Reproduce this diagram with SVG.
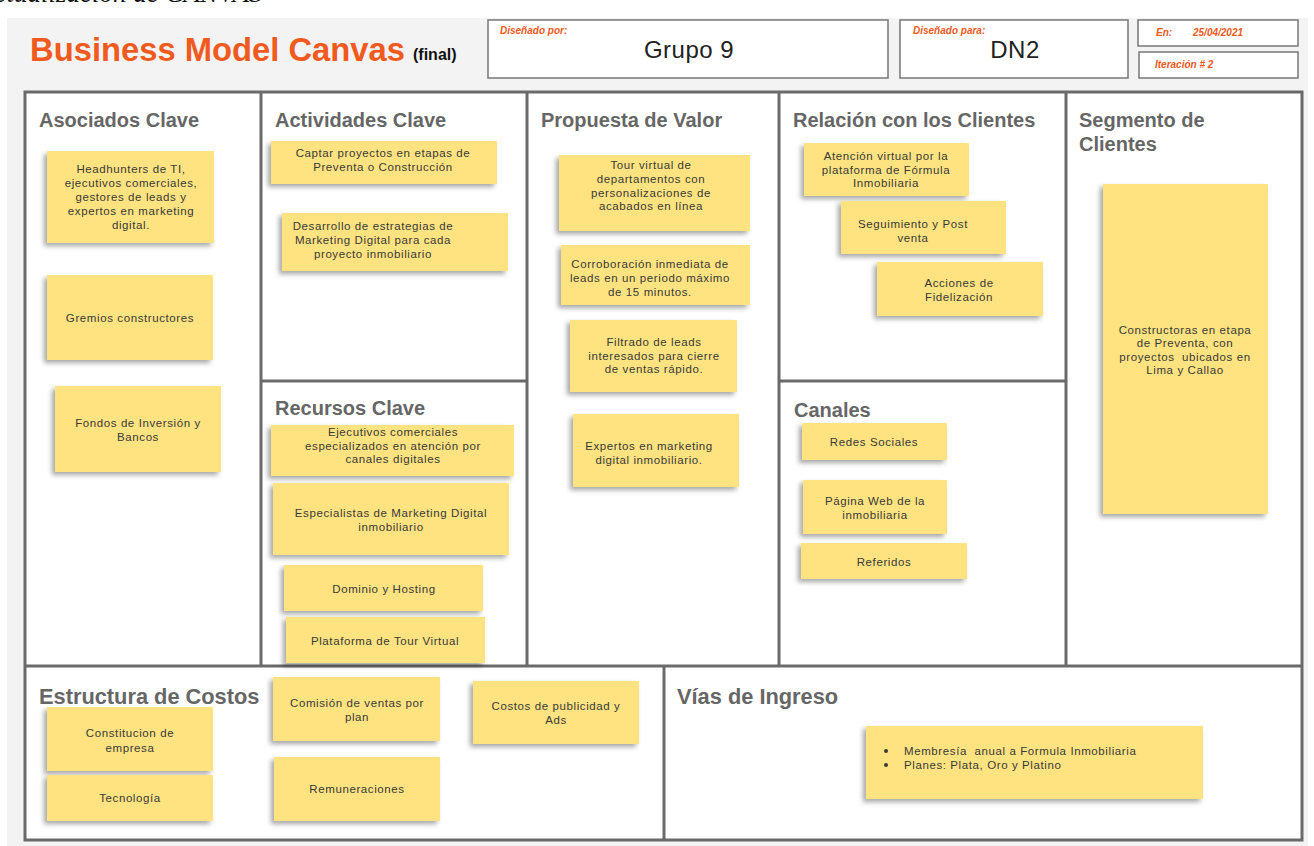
<svg xmlns="http://www.w3.org/2000/svg" width="1314" height="846" viewBox="0 0 1314 846">
<defs>
<filter id="sh" x="-10%" y="-10%" width="125%" height="130%">
<feDropShadow dx="-3" dy="3" stdDeviation="2.5" flood-color="#000" flood-opacity="0.35"/>
</filter>
<style>
.hd{font-family:"Liberation Sans",Arial,sans-serif;font-weight:bold;font-size:20px;fill:#666}
.hd2{font-family:"Liberation Sans",Arial,sans-serif;font-weight:bold;font-size:21.8px;fill:#666}
.nt{font-family:"Liberation Sans",Arial,sans-serif;font-size:11.5px;letter-spacing:0.6px;fill:#3a3a3a;text-anchor:middle}
.ntl{font-family:"Liberation Sans",Arial,sans-serif;font-size:11.5px;letter-spacing:0.6px;fill:#3a3a3a}
.note{fill:#fee380;filter:url(#sh)}
.grid{stroke:#6a6a6a;stroke-width:3;fill:none}
.box{fill:#fff;stroke:#777;stroke-width:1.5}
.lab{font-family:"Liberation Sans",Arial,sans-serif;font-style:italic;font-weight:bold;font-size:10px;fill:#f05a1e}
.big{font-family:"Liberation Sans",Arial,sans-serif;font-size:24px;letter-spacing:0.5px;fill:#222;text-anchor:middle}
</style>
</defs>
<rect width="1314" height="846" fill="#fff"/>
<text x="-22" y="2" font-family="Liberation Serif,serif" font-style="italic" font-size="27" fill="#111">Actualización de CANVAS</text>
<rect x="7" y="18" width="1301" height="828" fill="#f3f3f3"/>

<g id="header">
<text x="30" y="61" font-family="Liberation Sans,Arial,sans-serif" font-weight="bold" font-size="33" fill="#f05a1e" textLength="375" lengthAdjust="spacingAndGlyphs">Business Model Canvas</text>
<text x="413" y="60" font-family="Liberation Sans,Arial,sans-serif" font-weight="bold" font-size="16" fill="#111">(final)</text>
<g id="disenado-por"><rect class="box" x="488" y="20" width="400" height="58"/><text class="lab" x="500" y="34">Diseñado por:</text><text class="big" x="689" y="58">Grupo 9</text></g>
<g id="disenado-para"><rect class="box" x="900" y="20" width="228" height="58"/><text class="lab" x="913" y="34">Diseñado para:</text><text class="big" x="1015" y="58">DN2</text></g>
<g id="fecha"><rect class="box" x="1138" y="20" width="160" height="26"/><text class="lab" x="1156" y="36">En:</text><text class="lab" x="1193" y="36">25/04/2021</text></g>
<g id="iteracion"><rect class="box" x="1139" y="52" width="159" height="26"/><text class="lab" x="1155" y="68">Iteración # 2</text></g>
</g>

<g id="canvas-grid">
<rect x="25" y="92" width="1277" height="748" fill="#fff"/>
<g class="grid">
<rect x="25" y="92" width="1277" height="748"/>
<line x1="261" y1="92" x2="261" y2="666"/>
<line x1="527" y1="92" x2="527" y2="666"/>
<line x1="779" y1="92" x2="779" y2="666"/>
<line x1="1066" y1="92" x2="1066" y2="666"/>
<line x1="261" y1="381" x2="527" y2="381"/>
<line x1="779" y1="381" x2="1066" y2="381"/>
<line x1="25" y1="666" x2="1302" y2="666"/>
<line x1="664" y1="666" x2="664" y2="840"/>
</g>
</g>

<g id="asociados-clave">
<text class="hd" x="39" y="127">Asociados Clave</text>
<g id="n-headhunters"><rect class="note" x="47" y="151" width="167" height="92"/>
<text class="nt"><tspan x="131" y="173">Headhunters de TI,</tspan><tspan x="131" y="187">ejecutivos comerciales,</tspan><tspan x="131" y="201">gestores de leads y</tspan><tspan x="131" y="215">expertos en marketing</tspan><tspan x="131" y="229">digital.</tspan></text></g>
<g id="n-gremios"><rect class="note" x="47" y="275" width="166" height="85"/><text class="nt" x="130" y="322">Gremios constructores</text></g>
<g id="n-fondos"><rect class="note" x="55" y="386" width="166" height="86"/><text class="nt"><tspan x="138" y="427">Fondos de Inversión y</tspan><tspan x="138" y="441">Bancos</tspan></text></g>
</g>

<g id="actividades-clave">
<text class="hd" x="275" y="127">Actividades Clave</text>
<g id="n-captar"><rect class="note" x="271" y="141" width="226" height="43"/><text class="nt"><tspan x="383" y="157">Captar proyectos en etapas de</tspan><tspan x="383" y="171">Preventa o Construcción</tspan></text></g>
<g id="n-desarrollo"><rect class="note" x="282" y="213" width="226" height="58"/><text class="nt"><tspan x="373" y="230">Desarrollo de estrategias de</tspan><tspan x="373" y="244">Marketing Digital para cada</tspan><tspan x="373" y="258">proyecto inmobiliario</tspan></text></g>
</g>

<g id="recursos-clave">
<text class="hd" x="275" y="415">Recursos Clave</text>
<g id="n-ejecutivos"><rect class="note" x="271" y="425" width="243" height="51"/><text class="nt"><tspan x="393" y="436">Ejecutivos comerciales</tspan><tspan x="393" y="450">especializados en atención por</tspan><tspan x="393" y="463">canales digitales</tspan></text></g>
<g id="n-especialistas"><rect class="note" x="273" y="483" width="236" height="72"/><text class="nt"><tspan x="391" y="517">Especialistas de Marketing Digital</tspan><tspan x="391" y="531">inmobiliario</tspan></text></g>
<g id="n-dominio"><rect class="note" x="284" y="565" width="199" height="46"/><text class="nt" x="384" y="593">Dominio y Hosting</text></g>
<g id="n-plataforma"><rect class="note" x="286" y="617" width="199" height="46"/><text class="nt" x="385" y="645">Plataforma de Tour Virtual</text></g>
</g>

<g id="propuesta-valor">
<text class="hd" x="541" y="127">Propuesta de Valor</text>
<g id="n-tour"><rect class="note" x="559" y="155" width="191" height="76"/><text class="nt"><tspan x="651" y="169">Tour virtual de</tspan><tspan x="651" y="183">departamentos con</tspan><tspan x="651" y="197">personalizaciones de</tspan><tspan x="651" y="210">acabados en línea</tspan></text></g>
<g id="n-corroboracion"><rect class="note" x="561" y="245" width="189" height="60"/><text class="nt"><tspan x="650" y="268">Corroboración inmediata de</tspan><tspan x="650" y="282">leads en un periodo máximo</tspan><tspan x="650" y="296">de 15 minutos.</tspan></text></g>
<g id="n-filtrado"><rect class="note" x="570" y="320" width="167" height="72"/><text class="nt"><tspan x="654" y="346">Filtrado de leads</tspan><tspan x="654" y="360">interesados para cierre</tspan><tspan x="654" y="373">de ventas rápido.</tspan></text></g>
<g id="n-expertos"><rect class="note" x="573" y="414" width="166" height="73"/><text class="nt"><tspan x="649" y="450">Expertos en marketing</tspan><tspan x="649" y="464">digital inmobiliario.</tspan></text></g>
</g>

<g id="relacion-clientes">
<text class="hd" x="793" y="127">Relación con los Clientes</text>
<g id="n-atencion"><rect class="note" x="804" y="143" width="165" height="53"/><text class="nt"><tspan x="886" y="160">Atención virtual por la</tspan><tspan x="886" y="174">plataforma de Fórmula</tspan><tspan x="886" y="187">Inmobiliaria</tspan></text></g>
<g id="n-seguimiento"><rect class="note" x="841" y="201" width="165" height="53"/><text class="nt"><tspan x="913" y="228">Seguimiento y Post</tspan><tspan x="913" y="242">venta</tspan></text></g>
<g id="n-acciones"><rect class="note" x="877" y="262" width="166" height="54"/><text class="nt"><tspan x="959" y="287">Acciones de</tspan><tspan x="959" y="301">Fidelización</tspan></text></g>
</g>

<g id="canales">
<text class="hd" x="794" y="417">Canales</text>
<g id="n-redes"><rect class="note" x="802" y="423" width="145" height="37"/><text class="nt" x="874" y="446">Redes Sociales</text></g>
<g id="n-pagina"><rect class="note" x="803" y="480" width="144" height="54"/><text class="nt"><tspan x="875" y="505">Página Web de la</tspan><tspan x="875" y="519">inmobiliaria</tspan></text></g>
<g id="n-referidos"><rect class="note" x="801" y="543" width="166" height="36"/><text class="nt" x="884" y="566">Referidos</text></g>
</g>

<g id="segmento-clientes">
<text class="hd"><tspan x="1079" y="127">Segmento de</tspan><tspan x="1079" y="151">Clientes</tspan></text>
<g id="n-constructoras"><rect class="note" x="1103" y="184" width="165" height="330"/><text class="nt"><tspan x="1185" y="334">Constructoras en etapa</tspan><tspan x="1185" y="347">de Preventa, con</tspan><tspan x="1185" y="361" xml:space="preserve">proyectos  ubicados en</tspan><tspan x="1185" y="374">Lima y Callao</tspan></text></g>
</g>

<g id="estructura-costos">
<text class="hd2" x="39" y="704">Estructura de Costos</text>
<g id="n-constitucion"><rect class="note" x="47" y="707" width="166" height="64"/><text class="nt"><tspan x="130" y="737">Constitucion de</tspan><tspan x="130" y="752">empresa</tspan></text></g>
<g id="n-tecnologia"><rect class="note" x="47" y="775" width="166" height="46"/><text class="nt" x="130" y="802">Tecnología</text></g>
<g id="n-comision"><rect class="note" x="273" y="677" width="167" height="64"/><text class="nt"><tspan x="357" y="707">Comisión de ventas por</tspan><tspan x="357" y="721">plan</tspan></text></g>
<g id="n-remuneraciones"><rect class="note" x="274" y="757" width="166" height="64"/><text class="nt" x="357" y="793">Remuneraciones</text></g>
<g id="n-costos-pub"><rect class="note" x="473" y="681" width="166" height="63"/><text class="nt"><tspan x="556" y="710">Costos de publicidad y</tspan><tspan x="556" y="724">Ads</tspan></text></g>
</g>

<g id="vias-ingreso">
<text class="hd2" x="677" y="704">Vías de Ingreso</text>
<g id="n-membresia"><rect class="note" x="866" y="726" width="337" height="73"/>
<circle cx="886" cy="751" r="2" fill="#3a3a3a"/><circle cx="886" cy="765" r="2" fill="#3a3a3a"/>
<text class="ntl" xml:space="preserve"><tspan x="904" y="755">Membresía  anual a Formula Inmobiliaria</tspan><tspan x="904" y="769">Planes: Plata, Oro y Platino</tspan></text></g>
</g>

<g id="connectors"/>
</svg>
